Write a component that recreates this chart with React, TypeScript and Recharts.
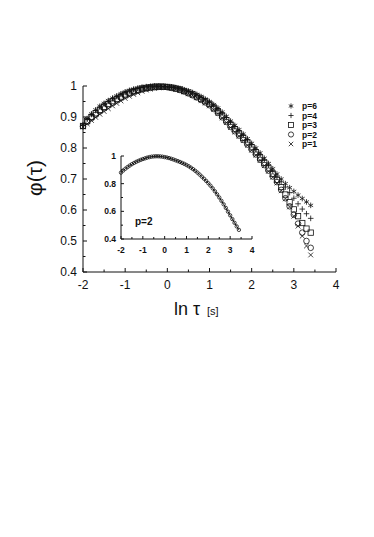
import React from 'react';
import { ComposedChart, Legend, Line, Scatter, ScatterChart, XAxis, YAxis } from 'recharts';

const TAU = [
  -2.0, -1.9, -1.8, -1.7, -1.6, -1.5, -1.4, -1.3, -1.2, -1.1,
  -1.0, -0.9, -0.8, -0.7, -0.6, -0.5, -0.4, -0.3, -0.2, -0.1,
  0.0, 0.1, 0.2, 0.3, 0.4, 0.5, 0.6, 0.7, 0.8, 0.9,
  1.0, 1.1, 1.2, 1.3, 1.4, 1.5, 1.6, 1.7, 1.8, 1.9,
  2.0, 2.1, 2.2, 2.3, 2.4, 2.5, 2.6, 2.7, 2.8, 2.9,
  3.0, 3.1, 3.2, 3.3, 3.4,
];

const PHI_P6 = [
  0.875, 0.895, 0.910, 0.923, 0.935, 0.944, 0.953, 0.961, 0.968, 0.975,
  0.981, 0.986, 0.990, 0.993, 0.996, 0.998, 0.999, 1.000, 1.000, 0.999,
  0.998, 0.997, 0.995, 0.992, 0.988, 0.984, 0.979, 0.973, 0.966, 0.958,
  0.950, 0.940, 0.929, 0.916, 0.902, 0.887, 0.873, 0.859, 0.845, 0.830,
  0.815, 0.800, 0.784, 0.767, 0.750, 0.733, 0.716, 0.700, 0.685, 0.672,
  0.660, 0.648, 0.637, 0.626, 0.615,
];

const PHI_P4 = [
  0.873, 0.893, 0.908, 0.921, 0.932, 0.942, 0.951, 0.959, 0.966, 0.973,
  0.979, 0.984, 0.988, 0.992, 0.995, 0.997, 0.998, 0.999, 0.999, 0.998,
  0.997, 0.996, 0.994, 0.991, 0.987, 0.982, 0.977, 0.970, 0.963, 0.955,
  0.946, 0.936, 0.925, 0.912, 0.898, 0.883, 0.869, 0.855, 0.841, 0.826,
  0.811, 0.795, 0.779, 0.762, 0.745, 0.727, 0.709, 0.691, 0.674, 0.656,
  0.638, 0.620, 0.603, 0.588, 0.573,
];

const PHI_P3 = [
  0.871, 0.887, 0.900, 0.912, 0.923, 0.933, 0.942, 0.951, 0.959, 0.966,
  0.973, 0.979, 0.984, 0.988, 0.992, 0.994, 0.996, 0.998, 0.998, 0.998,
  0.997, 0.995, 0.992, 0.989, 0.984, 0.979, 0.973, 0.966, 0.959, 0.951,
  0.942, 0.931, 0.919, 0.905, 0.890, 0.875, 0.861, 0.847, 0.833, 0.818,
  0.802, 0.786, 0.769, 0.752, 0.734, 0.716, 0.697, 0.674, 0.650, 0.625,
  0.602, 0.580, 0.558, 0.540, 0.527,
];

const PHI_P2 = [
  0.870, 0.884, 0.896, 0.907, 0.918, 0.928, 0.937, 0.946, 0.954, 0.962,
  0.969, 0.975, 0.980, 0.985, 0.989, 0.992, 0.994, 0.996, 0.997, 0.997,
  0.996, 0.994, 0.991, 0.987, 0.982, 0.976, 0.970, 0.963, 0.955, 0.947,
  0.938, 0.926, 0.913, 0.899, 0.884, 0.868, 0.854, 0.840, 0.826, 0.811,
  0.795, 0.779, 0.762, 0.745, 0.727, 0.708, 0.690, 0.665, 0.638, 0.612,
  0.585, 0.556, 0.527, 0.500, 0.478,
];

const PHI_P1 = [
  0.868, 0.878, 0.889, 0.899, 0.909, 0.918, 0.927, 0.936, 0.944, 0.952,
  0.960, 0.967, 0.973, 0.978, 0.983, 0.987, 0.990, 0.992, 0.994, 0.995,
  0.995, 0.993, 0.990, 0.986, 0.981, 0.975, 0.969, 0.962, 0.954, 0.945,
  0.936, 0.924, 0.911, 0.897, 0.882, 0.866, 0.852, 0.838, 0.824, 0.809,
  0.793, 0.777, 0.760, 0.743, 0.725, 0.706, 0.687, 0.662, 0.636, 0.610,
  0.580, 0.548, 0.516, 0.484, 0.455,
];

// inset: p=2 alone, with its fitted curve
const INSET_PHI = [
  0.880, 0.895, 0.908, 0.920, 0.931, 0.941, 0.950, 0.958, 0.965, 0.972,
  0.978, 0.983, 0.988, 0.992, 0.995, 0.997, 0.998, 0.998, 0.997, 0.995,
  0.992, 0.989, 0.985, 0.980, 0.975, 0.969, 0.963, 0.957, 0.950, 0.943,
  0.935, 0.926, 0.916, 0.905, 0.893, 0.880, 0.866, 0.851, 0.836, 0.820,
  0.803, 0.785, 0.766, 0.745, 0.723, 0.700, 0.676, 0.651, 0.625, 0.598,
  0.571, 0.544, 0.517, 0.491, 0.466,
];

const SERIES_LABELS = ['p=6', 'p=4', 'p=3', 'p=2', 'p=1'];
const SERIES_MARKS = ['star', 'plus', 'square', 'circle', 'cross'] as const;
const SERIES_VALUES = [PHI_P6, PHI_P4, PHI_P3, PHI_P2, PHI_P1];

const MAIN_X_TICKS = [-2, -1.5, -1, -0.5, 0, 0.5, 1, 1.5, 2, 2.5, 3, 3.5, 4];
const MAIN_Y_TICKS = [0.4, 0.45, 0.5, 0.55, 0.6, 0.65, 0.7, 0.75, 0.8, 0.85, 0.9, 0.95, 1];
const INSET_Y_TICKS = [0.4, 0.5, 0.6, 0.7, 0.8, 0.9, 1];

const FONT = '"Liberation Sans", Arial, sans-serif';
const INK = '#111';

type MarkKind = (typeof SERIES_MARKS)[number];

function Marker({ kind, cx, cy, r = 2.8 }: { kind: MarkKind; cx: number; cy: number; r?: number }) {
  const s = { stroke: INK, strokeWidth: 0.8, fill: 'none' };
  if (cx == null || cy == null) return null;
  switch (kind) {
    case 'circle':
      return <circle cx={cx} cy={cy} r={r} {...s} />;
    case 'square':
      return <rect x={cx - r * 0.95} y={cy - r * 0.95} width={r * 1.9} height={r * 1.9} {...s} />;
    case 'plus':
      return <path d={`M${cx - r},${cy}H${cx + r}M${cx},${cy - r}V${cy + r}`} {...s} />;
    case 'cross': {
      const d = r * 0.85;
      return <path d={`M${cx - d},${cy - d}L${cx + d},${cy + d}M${cx - d},${cy + d}L${cx + d},${cy - d}`} {...s} />;
    }
    case 'star': {
      const a = r * 0.87;
      const b = r * 0.5;
      return (
        <path
          d={`M${cx},${cy - r}V${cy + r}M${cx - a},${cy - b}L${cx + a},${cy + b}M${cx - a},${cy + b}L${cx + a},${cy - b}`}
          {...s}
        />
      );
    }
  }
  return null;
}

const isMajor = (v: number, step: number) => Math.abs(v / step - Math.round(v / step)) < 1e-6;

function MainXTick({ x, y, payload }: any) {
  const v = payload.value;
  const major = isMajor(v, 1);
  return (
    <g>
      <line x1={x} y1={y} x2={x} y2={y - (major ? 4 : 2.5)} stroke={INK} />
      {major && (
        <text x={x} y={y + 17} textAnchor="middle" fontSize={12} fontFamily={FONT} fill={INK}>
          {v}
        </text>
      )}
    </g>
  );
}

function MainYTick({ x, y, payload }: any) {
  const v = payload.value;
  const major = isMajor(v, 0.1);
  return (
    <g>
      <line x1={x} y1={y} x2={x + (major ? 4 : 2.5)} y2={y} stroke={INK} />
      {major && (
        <text x={x - 6} y={y + 4} textAnchor="end" fontSize={12} fontFamily={FONT} fill={INK}>
          {Number(v.toFixed(1))}
        </text>
      )}
    </g>
  );
}

function InsetXTick({ x, y, payload }: any) {
  const v = payload.value;
  const major = isMajor(v, 1);
  return (
    <g>
      <line x1={x} y1={y} x2={x} y2={y - (major ? 3 : 2)} stroke={INK} />
      {major && (
        <text x={x} y={y + 14} textAnchor="middle" fontSize={8.5} fontWeight="bold" fontFamily={FONT} fill={INK}>
          {v}
        </text>
      )}
    </g>
  );
}

function InsetYTick({ x, y, payload }: any) {
  const v = payload.value;
  const major = isMajor(v, 0.2);
  return (
    <g>
      <line x1={x} y1={y} x2={x + (major ? 3 : 2)} y2={y} stroke={INK} />
      {major && (
        <text x={x - 5} y={y + 3} textAnchor="end" fontSize={8.5} fontWeight="bold" fontFamily={FONT} fill={INK}>
          {Number(v.toFixed(1))}
        </text>
      )}
    </g>
  );
}

function KeyBox() {
  return (
    <svg width={52} height={54}>
      {SERIES_LABELS.map((label, i) => (
        <g key={label}>
          <Marker kind={SERIES_MARKS[i]} cx={5} cy={6 + i * 9.5} r={2.6} />
          <text x={16} y={9.2 + i * 9.5} fontSize={8.5} fontWeight="bold" fontFamily={FONT} fill={INK}>
            {label}
          </text>
        </g>
      ))}
    </svg>
  );
}

export default function App() {
  const seriesData = SERIES_VALUES.map((vals) => TAU.map((t, i) => ({ x: t, y: vals[i] })));
  const insetData = TAU.map((t, i) => ({ x: t, y: INSET_PHI[i] }));

  return (
    <div style={{ position: 'absolute', left: 0, top: 0, width: 374, height: 537, background: '#fff', fontFamily: FONT }}>
      <div style={{ position: 'absolute', left: 0, top: 0 }}>
        <ScatterChart width={374} height={537} margin={{ top: 86, right: 38, bottom: 235, left: 43 }}>
          <XAxis
            type="number"
            dataKey="x"
            domain={[-2, 4]}
            ticks={MAIN_X_TICKS}
            tick={<MainXTick />}
            tickLine={false}
            tickSize={0}
            tickMargin={0}
            axisLine={{ stroke: INK }}
            height={30}
            interval={0}
          />
          <YAxis
            type="number"
            dataKey="y"
            domain={[0.4, 1]}
            ticks={MAIN_Y_TICKS}
            tick={<MainYTick />}
            tickLine={false}
            tickSize={0}
            tickMargin={0}
            axisLine={{ stroke: INK }}
            width={40}
            interval={0}
          />
          {seriesData.map((data, i) => (
            <Scatter
              key={SERIES_LABELS[i]}
              name={SERIES_LABELS[i]}
              data={data}
              isAnimationActive={false}
              shape={(p: any) => <Marker kind={SERIES_MARKS[i]} cx={p.cx} cy={p.cy} />}
            />
          ))}
          <Legend
            layout="vertical"
            align="center"
            verticalAlign="middle"
            content={() => <KeyBox />}
            wrapperStyle={{ left: 286, top: 100, width: 52, height: 54 }}
          />
        </ScatterChart>
      </div>

      <div style={{ position: 'absolute', left: 91, top: 146 }}>
        <ComposedChart width={170} height={110} margin={{ top: 10, right: 9, bottom: 0, left: 0 }}>
          <XAxis
            type="number"
            dataKey="x"
            domain={[-2, 4]}
            ticks={MAIN_X_TICKS}
            tick={<InsetXTick />}
            tickLine={false}
            tickSize={0}
            tickMargin={0}
            axisLine={{ stroke: INK }}
            height={17}
            interval={0}
          />
          <YAxis
            type="number"
            dataKey="y"
            domain={[0.4, 1]}
            ticks={INSET_Y_TICKS}
            tick={<InsetYTick />}
            tickLine={false}
            tickSize={0}
            tickMargin={0}
            axisLine={{ stroke: INK }}
            width={30}
            interval={0}
          />
          <Line
            data={insetData}
            dataKey="y"
            type="monotone"
            stroke={INK}
            strokeWidth={1}
            dot={false}
            isAnimationActive={false}
          />
          <Scatter
            data={insetData}
            isAnimationActive={false}
            shape={(p: any) => <Marker kind="circle" cx={p.cx} cy={p.cy} r={1.7} />}
          />
        </ComposedChart>
      </div>

      <svg width={374} height={537} style={{ position: 'absolute', left: 0, top: 0, pointerEvents: 'none' }}>
        <text
          x={34}
          y={178}
          transform="rotate(-90 34 178)"
          textAnchor="middle"
          dominantBaseline="central"
          fontSize={21}
          fontFamily={FONT}
          fill={INK}
        >
          φ(τ)
        </text>
        <text x={174} y={315} fontSize={18} fontFamily={FONT} fill={INK}>
          ln τ
        </text>
        <text x={207} y={315} fontSize={11} fontFamily={FONT} fill={INK}>
          [s]
        </text>
        <text x={135} y={225} fontSize={10} fontWeight="bold" fontFamily={FONT} fill={INK}>
          p=2
        </text>
      </svg>
    </div>
  );
}
